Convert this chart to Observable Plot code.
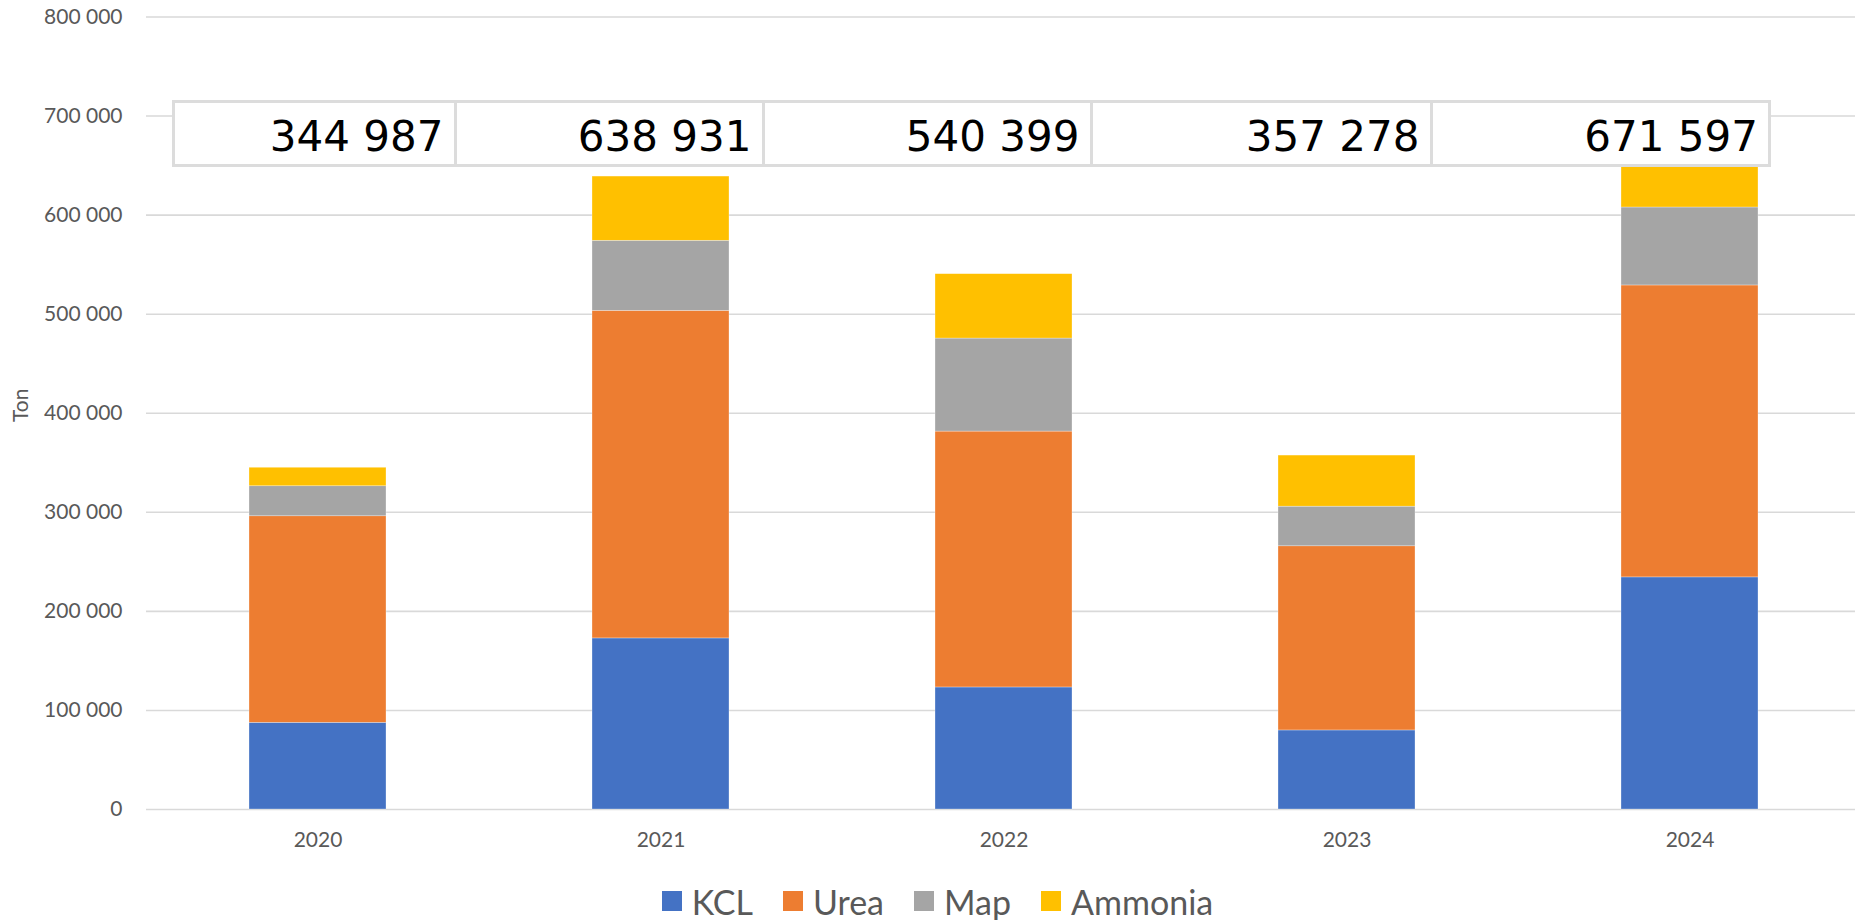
<!DOCTYPE html>
<html>
<head>
<meta charset="utf-8">
<script src="https://cdn.jsdelivr.net/npm/d3@7"></script>
<script src="https://cdn.jsdelivr.net/npm/@observablehq/plot@0.6"></script>
<style>
  html, body { margin: 0; padding: 0; background: #fff; overflow: hidden; }
  #wrap { position: relative; width: 1855px; height: 920px; font-family: Lato, "Open Sans", sans-serif; }
  #totals { position: absolute; left: 172px; top: 100px; width: 1599px; height: 67px; box-sizing: border-box;
            border: 3px solid #dcdcdc; background: #fff; display: flex; }
  #totals .cell { box-sizing: border-box; height: 100%; border-right: 3px solid #dcdcdc; text-align: right;
            font-family: "DejaVu Sans", sans-serif; font-size: 42px; line-height: 61px; color: #000; padding-right: 10px; }
  #totals .cell span { position: relative; top: 3px; }
  #totals .cell:last-child { border-right: none; }
  #legend { position: absolute; left: 0; top: 880px; width: 1855px; height: 42px; display: flex; justify-content: center;
            align-items: center; padding-left: 20px; box-sizing: border-box; color: #595959; font-size: 34px; }
  #legend .item { display: flex; align-items: center; margin: 0 15px; }
  #legend .sw { width: 20px; height: 20px; margin-right: 10px; }
</style>
</head>
<body>
<div id="wrap"></div>
<script>
const years = ["2020", "2021", "2022", "2023", "2024"];
const seriesNames = ["KCL", "Urea", "Map", "Ammonia"];
const seriesColors = ["#4472C4", "#ED7D31", "#A5A5A5", "#FFC000"];
const kcl = [87500, 172700, 123200, 79800, 234300];
const urea = [208500, 330700, 258300, 185900, 294700];
const map = [30300, 70700, 93900, 40000, 78700];
const ammonia = [18687, 64831, 64999, 51578, 63897];
const yTicks = [0, 100000, 200000, 300000, 400000, 500000, 600000, 700000, 800000];
const yLabel = "Ton";

const seriesValues = [kcl, urea, map, ammonia];
const data = [];
years.forEach((yr, i) => {
  seriesNames.forEach((s, j) => data.push({year: yr, series: s, value: seriesValues[j][i]}));
});
const totals = years.map((yr, i) => d3.sum(seriesValues, arr => arr[i]));
const fmt = d => d3.format(",")(d).replace(/,/g, " ");

const wrap = document.getElementById("wrap");

const chart = Plot.plot({
  width: 1855,
  height: 860,
  marginLeft: 146,
  marginRight: 0,
  marginTop: 16,
  marginBottom: 51,
  style: { fontFamily: "Lato, 'Open Sans', sans-serif", fontSize: "21px", color: "#595959", background: "#fff", maxWidth: "none" },
  x: { domain: years, range: [146, 1862], paddingInner: 0.6, paddingOuter: 0.3, label: null },
  y: { domain: [0, 800000], range: [809, 16.5], label: null },
  color: { domain: seriesNames, range: seriesColors },
  marks: [
    Plot.gridY(yTicks, { stroke: "#d9d9d9", strokeOpacity: 1, strokeWidth: 1.6 }),
    Plot.barY(data, { x: "year", y: "value", fill: "series", order: seriesNames, stroke: "#fff", strokeWidth: 0.6, strokeOpacity: 0.5 }),
    Plot.axisY(yTicks, { tickSize: 0, tickPadding: 24, tickFormat: fmt, label: null }),
    Plot.axisX({ tickSize: 0, tickPadding: 23, label: null }),
    Plot.text([yLabel], { frameAnchor: "left", dx: -125, dy: 9, rotate: -90, fill: "#595959", fontSize: 21 })
  ]
});
wrap.appendChild(chart);

// totals table overlay
const cellWidths = [281.5, 308, 328, 340, 335.5];
const tbl = document.createElement("div");
tbl.id = "totals";
totals.forEach((t, i) => {
  const c = document.createElement("div");
  c.className = "cell";
  c.style.width = cellWidths[i] + "px";
  const sp = document.createElement("span");
  sp.textContent = fmt(t);
  c.appendChild(sp);
  tbl.appendChild(c);
});
wrap.appendChild(tbl);

// legend
const leg = document.createElement("div");
leg.id = "legend";
seriesNames.forEach((s, i) => {
  const it = document.createElement("div");
  it.className = "item";
  const sw = document.createElement("div");
  sw.className = "sw";
  sw.style.background = seriesColors[i];
  const tx = document.createElement("span");
  tx.textContent = s;
  it.appendChild(sw);
  it.appendChild(tx);
  leg.appendChild(it);
});
wrap.appendChild(leg);
</script>
</body>
</html>
